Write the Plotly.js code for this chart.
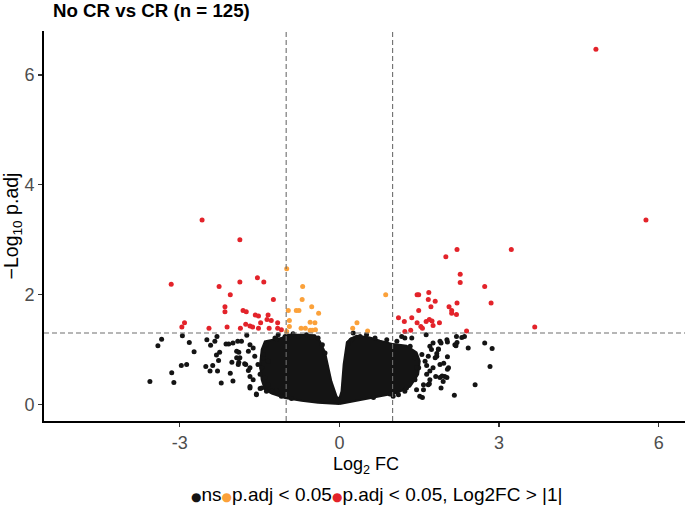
<!DOCTYPE html>
<html>
<head>
<meta charset="utf-8">
<script src="https://cdn.plot.ly/plotly-3.0.1.min.js"></script>
<style>
html,body{margin:0;padding:0;overflow:hidden;background:#fff;}
#chart{width:690px;height:507px;}
</style>
</head>
<body>
<div id="chart"></div>
<script>
// ---- data ----
const titleText = "No CR vs CR (n = 125)";
const legendNames = ["ns", "p.adj < 0.05", "p.adj < 0.05, Log2FC > |1|"];
const xTickVals = [-3, 0, 3, 6];
const xTickText = ["-3", "0", "3", "6"];
const yTickVals = [0, 2, 4, 6];
const yTickText = ["0", "2", "4", "6"];
const fcCut = 1;
const pCut = 1.30103; // -log10(0.05)

// significant & |log2FC| > 1 (red)
const redX = [4.82, 5.76, 2.21, 3.23, 2.00, 2.27, 2.27, 2.73, 2.85, 3.67, 2.21, 2.06, 2.11, 2.11, 2.20, 1.88,
  1.80, 1.68, 1.67, 1.72, 1.46, 1.49, 1.49, 1.36, 1.11, 1.22, 1.46, 1.53, 1.56, 1.63, 1.69, 1.74, 1.76, 1.23,
  1.34, 2.39,
  -2.58, -1.87, -3.16, -2.26, -1.87, -1.54, -1.42, -2.05, -1.24, -2.15, -2.15, -1.81, -1.75, -1.58, -1.52,
  -1.34, -1.36, -1.28, -1.16, -1.48, -1.76, -1.68, -1.63, -1.52, -1.32, -1.16, -1.09, -1.86, -2.11, -2.45,
  -2.91, -2.96];
const redY = [6.47, 3.36, 2.82, 2.82, 2.69, 2.37, 2.22, 2.15, 1.85, 1.41, 1.85, 1.78, 1.71, 1.66, 1.64, 1.49,
  1.88, 2.04, 1.91, 1.78, 2.00, 2.00, 1.71, 1.58, 1.58, 1.51, 1.49, 1.42, 1.39, 1.51, 1.55, 1.52, 1.44, 1.33,
  1.35, 1.34,
  3.36, 3.00, 2.19, 2.15, 2.23, 2.31, 2.23, 2.00, 1.91, 1.78, 1.69, 1.71, 1.69, 1.63, 1.61,
  1.63, 1.55, 1.53, 1.49, 1.49, 1.46, 1.43, 1.41, 1.39, 1.39, 1.39, 1.36, 1.39, 1.41, 1.39,
  1.49, 1.41];

// significant, |log2FC| <= 1 (orange)
const orangeX = [-0.99, -0.69, -0.70, -0.52, -0.96, -0.81, -0.76, -0.39, -0.94, -0.55, -0.46, -0.94, -0.72,
  -0.64, -0.55, -0.51, -0.45, -0.99, 0.87, 0.33, 0.25, 0.53];
const orangeY = [2.47, 2.15, 1.91, 1.78, 1.71, 1.71, 1.71, 1.66, 1.53, 1.50, 1.49, 1.42, 1.39,
  1.39, 1.35, 1.35, 1.36, 1.33, 2.00, 1.49, 1.39, 1.34];

// not significant (black): the sparse outer points and the fringe of the dense core
const nsX = [-3.56, -3.11, -3.15, -3.41, -3.34, -2.95, -2.82, -2.73, -2.97, -2.87, -2.49, -2.42, -2.30, -2.34,
  -2.25, -2.31, -2.27, -2.51, -2.38, -2.43, -2.29, -2.22, -2.05, -2.00, -2.13, -2.08, -2.00, -1.91, -1.89,
  -2.02, -1.89, -1.93, -1.74, -1.76, -1.71, -1.68, -1.56, -1.49,
  -1.93, -1.84, -1.87, -1.90, -1.68, -1.62, -1.71, -1.59, -1.78, -1.68, -1.68, -1.62, -1.68, -1.56, -1.46,
  -1.37, -1.27, -1.18, -1.49, -1.53, -1.43, -1.21, -1.15, -1.34,
  -1.18, -1.02, -0.87, -0.77, -0.62, -0.52, -0.40, -0.32, -0.27, -1.37, -1.43, -1.46, -1.40, -1.34, -1.09, -0.90,
  1.56, 2.16, 2.55, 2.83, 1.91, 1.69, 1.58, 1.81, 1.93, 2.03, 1.96, 2.03, 1.98, 1.83, 1.86, 2.03, 1.91, 2.19,
  2.21, 2.30, 2.35, 2.42, 2.73, 2.87, 1.63, 1.70, 1.80, 1.64, 1.70, 1.49,
  0.23, 0.26, 1.17, 1.23, 1.36, 1.76, 1.89, 2.02, 2.17, 2.20, 1.73, 1.86, 1.55, 1.67, 1.83, 1.61, 1.89, 1.76,
  2.05, 1.64, 1.70, 1.89, 2.02, 1.95, 1.58, 1.45, 1.67, 1.51, 1.23, 1.11, 1.01,
  0.17, 0.39, 0.51, 0.67, 0.89, 1.08, 1.33, 1.42, 1.45, 1.42, 1.26, 0.95, 0.64];
const nsY = [0.42, 0.40, 0.58, 1.07, 1.19, 1.25, 1.13, 0.96, 0.71, 0.73, 1.18, 1.08, 1.24, 1.15,
  0.95, 0.90, 0.80, 0.69, 0.71, 0.61, 0.61, 0.39, 0.57, 0.43, 1.10, 1.10, 1.12, 1.15, 0.95,
  0.77, 0.77, 0.85, 1.26, 0.73, 0.62, 0.30, 0.19, 0.29,
  0.97, 1.15, 0.85, 0.73, 1.09, 1.03, 0.97, 0.88, 0.74, 0.67, 0.51, 0.45, 0.33, 0.18, 0.30,
  0.24, 0.24, 0.25, 0.55, 0.73, 0.85, 1.21, 1.27, 0.79,
  1.19, 1.24, 1.29, 1.24, 1.27, 1.22, 1.21, 1.09, 0.94, 1.09, 0.91, 0.67, 0.49, 0.36, 0.15, 0.11,
  0.13, 0.17, 0.36, 0.69, 0.30, 0.38, 0.27, 0.51, 0.52, 0.64, 0.75, 0.87, 0.51, 0.93, 1.01, 1.14, 1.12, 1.07,
  1.13, 1.22, 1.24, 1.03, 1.12, 1.02, 1.27, 0.61, 0.85, 0.71, 1.06, 0.67,
  1.18, 1.30, 1.24, 1.21, 1.21, 1.12, 1.15, 1.18, 1.09, 1.24, 1.00, 1.00, 0.91, 0.88, 0.88, 0.79, 0.73, 0.67,
  0.67, 0.55, 0.45, 0.49, 0.49, 0.42, 0.36, 0.27, 0.36, 0.15, 0.24, 0.18, 0.15,
  1.12, 1.24, 1.27, 1.21, 1.18, 1.15, 1.06, 0.85, 0.67, 0.45, 0.30, 0.19, 0.13];

// outline of the dense, overlapping core of non-significant genes
const coreX = [0.00, -0.40, -0.71, -1.02, -1.27, -1.40, -1.46, -1.49, -1.46, -1.40, -1.09, -0.96, -0.71, -0.46,
  -0.37, -0.27, -0.15, -0.05, 0.00, 0.04, 0.08, 0.14, 0.20, 0.32, 0.57, 0.76, 1.01, 1.26, 1.45, 1.51, 1.48,
  1.33, 1.08, 0.76, 0.39, 0.00];
const coreY = [0.01, 0.03, 0.07, 0.12, 0.20, 0.27, 0.45, 0.73, 1.00, 1.15, 1.21, 1.27, 1.27, 1.26,
  1.16, 0.95, 0.42, 0.14, 0.11, 0.24, 0.73, 1.13, 1.19, 1.25, 1.22, 1.16, 1.10, 1.07, 0.95, 0.79, 0.55,
  0.33, 0.21, 0.15, 0.09, 0.01];

// ---- styling ----
const FONT = "Liberation Sans, Arial, Helvetica, sans-serif";
const colNS = "#141414", colO = "#FBA13A", colR = "#E3232A";
const msize = 5;

const traces = [
  {x: coreX, y: coreY, type: "scatter", mode: "lines", fill: "toself", fillcolor: colNS,
   line: {color: colNS, width: 2}, hoverinfo: "skip", showlegend: false},
  {x: nsX, y: nsY, type: "scatter", mode: "markers", name: legendNames[0],
   marker: {color: colNS, size: msize}, showlegend: false},
  {x: orangeX, y: orangeY, type: "scatter", mode: "markers", name: legendNames[1],
   marker: {color: colO, size: msize}, showlegend: false},
  {x: redX, y: redY, type: "scatter", mode: "markers", name: legendNames[2],
   marker: {color: colR, size: msize}, showlegend: false}
];

function esc(s) { return s.replace(/</g, "&lt;").replace(/>/g, "&gt;"); }
const legendCols = [colNS, colO, colR];
const legendText = legendNames.map((n, i) =>
  '<span style="color:' + legendCols[i] + ';font-size:12px;font-family:DejaVu Sans">\u25CF</span>' + esc(n)
).join("");

const dash = {color: "#6e6e6e", width: 1.1, dash: "5px,3px"};
const layout = {
  width: 690, height: 507,
  margin: {l: 44, r: 2, t: 31, b: 85.5, pad: 0, autoexpand: false},
  paper_bgcolor: "#fff", plot_bgcolor: "#fff",
  font: {family: FONT, color: "#000"},
  title: {text: titleText, font: {family: FONT, size: 18.7, color: "#000", weight: 700},
          xref: "container", x: 53 / 690, xanchor: "left", yref: "container", y: 1 - 10 / 507, yanchor: "middle"},
  xaxis: {range: [-5.55, 6.55], tickvals: xTickVals, ticktext: xTickText, showgrid: false, zeroline: false,
          showline: true, linecolor: "#000", linewidth: 2, ticks: "outside", ticklen: 4, tickwidth: 1.2,
          tickcolor: "#333", tickfont: {family: FONT, size: 18, color: "#4d4d4d"}, automargin: false,
          title: {text: "Log<sub>2</sub> FC", font: {family: FONT, size: 18, color: "#000"}, standoff: 6}},
  yaxis: {range: [-0.3, 6.8], tickvals: yTickVals, ticktext: yTickText, showgrid: false, zeroline: false,
          showline: true, linecolor: "#000", linewidth: 2, ticks: "outside", ticklen: 4, tickwidth: 1.2,
          tickcolor: "#333", tickfont: {family: FONT, size: 18, color: "#4d4d4d"}, automargin: false,
          title: {text: "\u2212Log<sub>10</sub> p.adj", font: {family: FONT, size: 19.5, color: "#000"}, standoff: 6}},
  shapes: [
    {type: "line", xref: "x", yref: "paper", x0: -fcCut, x1: -fcCut, y0: 0, y1: 1, line: dash, layer: "above"},
    {type: "line", xref: "x", yref: "paper", x0: fcCut, x1: fcCut, y0: 0, y1: 1, line: dash, layer: "above"},
    {type: "line", xref: "paper", yref: "y", x0: 0, x1: 1, y0: pCut, y1: pCut, line: dash, layer: "above"}
  ],
  annotations: [
    {text: legendText, xref: "paper", yref: "paper", x: (376.5 - 44) / 644, y: (421.5 - 495) / 390.5,
     xanchor: "center", yanchor: "middle", showarrow: false,
     font: {family: FONT, size: 19, color: "#000"}}
  ],
  showlegend: false
};

Plotly.newPlot("chart", traces, layout, {displayModeBar: false, staticPlot: true});
</script>
</body>
</html>
